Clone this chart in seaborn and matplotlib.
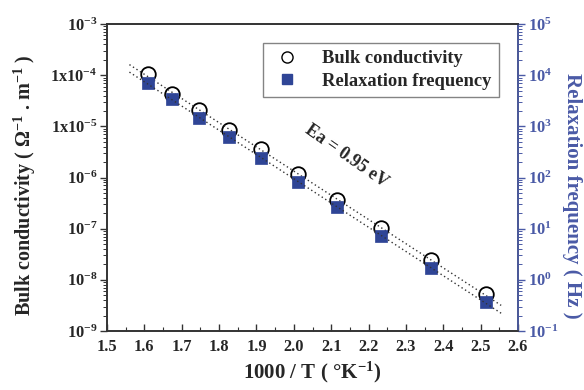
import numpy as np
import pandas as pd
import matplotlib
matplotlib.use("Agg")
import matplotlib.pyplot as plt
import seaborn as sns
from matplotlib.ticker import LogLocator, FixedLocator, NullFormatter
from matplotlib.lines import Line2D

sns.set_theme(style="white")
plt.rcParams['font.family'] = ['Liberation Serif', 'DejaVu Serif']
plt.rcParams['font.weight'] = 'bold'
plt.rcParams['mathtext.fontset'] = 'custom'
plt.rcParams['mathtext.rm'] = 'Liberation Serif:bold'
plt.rcParams['mathtext.it'] = 'Liberation Serif:bold:italic'
plt.rcParams['mathtext.bf'] = 'Liberation Serif:bold'

# Data
inv_T = [1.61, 1.674, 1.746, 1.827, 1.912, 2.011, 2.116, 2.233, 2.367, 2.514]
conductivity = [1.05e-4, 4.3e-5, 2.1e-5, 8.5e-6, 3.6e-6, 1.17e-6, 3.6e-7, 1.03e-7, 2.4e-8, 5.3e-9]
relax_freq = [7000, 3420, 1455, 620, 240, 82, 26.5, 7.2, 1.7, 0.37]
fit_range = [1.56, 2.555]

left_ticks = [1e-3, 1e-4, 1e-5, 1e-6, 1e-7, 1e-8, 1e-9]
left_labels = [r'$10^{-3}$', r'$1\mathrm{x}10^{-4}$', r'$1\mathrm{x}10^{-5}$', r'$10^{-6}$',
               r'$10^{-7}$', r'$10^{-8}$', r'$10^{-9}$']
right_ticks = [1e5, 1e4, 1e3, 1e2, 1e1, 1e0, 1e-1]
right_labels = [r'$10^{5}$', r'$10^{4}$', r'$10^{3}$', r'$10^{2}$', r'$10^{1}$', r'$10^{0}$', r'$10^{-1}$']
x_ticks = [1.5, 1.6, 1.7, 1.8, 1.9, 2.0, 2.1, 2.2, 2.3, 2.4, 2.5, 2.6]
legend_labels = ['Bulk conductivity', 'Relaxation frequency']

blue = '#2f4596'
axblue = '#4a5aa6'

df = pd.DataFrame({'x': inv_T, 'cond': conductivity, 'freq': relax_freq})

fig = plt.figure(figsize=(5.84, 3.90), dpi=100)
ax = fig.add_axes([107/584, 1-331/390, 411/584, 307/390])
ax2 = ax.twinx()

# Fit lines (log-linear)
xf = np.array(fit_range)
p1 = np.polyfit(df['x'], np.log10(df['cond']), 1)
p2 = np.polyfit(df['x'], np.log10(df['freq']), 1)
fit1 = pd.DataFrame({'x': xf, 'y': 10**np.polyval(p1, xf)})
fit2 = pd.DataFrame({'x': xf, 'y': 10**np.polyval(p2, xf)})

sns.scatterplot(data=df, x='x', y='cond', ax=ax, marker='o', s=110,
                facecolor='white', edgecolor='black', linewidth=1.3,
                zorder=2, legend=False)
sns.lineplot(data=fit1, x='x', y='y', ax=ax, color='#333333', linestyle=(0, (1, 2.0)),
             linewidth=1.0, zorder=3, legend=False)
sns.scatterplot(data=df, x='x', y='freq', ax=ax2, marker='s', s=80,
                color=blue, edgecolor=blue, linewidth=0.5,
                zorder=4, legend=False)
sns.lineplot(data=fit2, x='x', y='y', ax=ax2, color='#333333', linestyle=(0, (1, 2.0)),
             linewidth=1.0, zorder=5, legend=False)

ax.set_yscale('log')
ax2.set_yscale('log')
ax.set_xlim(1.5, 2.6)
ax.set_ylim(1e-9, 1e-3)
ax2.set_ylim(1e-1, 1e5)

ax.set_xticks(x_ticks)
ax.set_xticklabels([f'{v:.1f}' for v in x_ticks], fontsize=11.8, fontweight='bold')
ax.xaxis.set_minor_locator(FixedLocator(np.arange(1.55, 2.6, 0.1)))
ax.set_yticks(left_ticks)
ax.set_yticklabels(left_labels, fontsize=11.8)
ax.yaxis.set_minor_locator(LogLocator(base=10, subs=np.arange(2, 10), numticks=20))
ax.yaxis.set_minor_formatter(NullFormatter())
ax2.set_yticks(right_ticks)
ax2.set_yticklabels(right_labels, fontsize=11.8, color=axblue)
ax2.yaxis.set_minor_locator(LogLocator(base=10, subs=np.arange(2, 10), numticks=20))
ax2.yaxis.set_minor_formatter(NullFormatter())

ax.tick_params(axis='x', which='major', direction='in', length=5, width=1, bottom=True, color='#333333', pad=6)
ax.tick_params(axis='x', which='minor', direction='in', length=3, width=0.8, bottom=True, color='#333333')
ax.tick_params(axis='y', which='major', direction='out', length=5, width=1, left=True, color='#333333', pad=2)
ax.tick_params(axis='y', which='minor', direction='out', length=3, width=0.7, left=True, color='#333333')
ax2.tick_params(axis='y', which='major', direction='out', length=5, width=1, right=True, color=axblue, pad=2)
ax2.tick_params(axis='y', which='minor', direction='out', length=3, width=0.7, right=True, color=axblue)

for a in (ax, ax2):
    for s in a.spines.values():
        s.set_color('#333333')
        s.set_linewidth(1.2)
ax2.spines['right'].set_color(axblue)

ax.set_xlabel('1000 / T ( °K$^{-1}$)', fontsize=15, fontweight='bold', labelpad=3)
ax.set_ylabel(r'Bulk conductivity ( $\Omega^{-1}$ . m$^{-1}$ )', fontsize=14.5, fontweight='bold',
              va='center')
ax.yaxis.set_label_coords(-0.200, 0.475)
ax2.set_ylabel('Relaxation frequency ( Hz )', fontsize=15, fontweight='bold', color=axblue,
               rotation=-90, va='center')
ax2.yaxis.set_label_coords(1.132, 0.44)

ax.text(2.14, 2.6e-6, 'Ea = 0.95 eV', rotation=-35, fontsize=13, fontweight='bold',
        ha='center', va='center', rotation_mode='anchor')

handles = [Line2D([], [], marker='o', linestyle='', markerfacecolor='white', markeredgecolor='black',
                  markersize=8, markeredgewidth=1.0),
           Line2D([], [], marker='s', linestyle='', markerfacecolor=blue, markeredgecolor=blue, markersize=7)]
leg = ax2.legend(handles, legend_labels, loc='upper right',
                 bbox_to_anchor=(0.954, 0.938), borderaxespad=0, fontsize=13.3, frameon=True,
                 fancybox=False, edgecolor='#666666', handletextpad=0.97, borderpad=0.4,
                 labelspacing=0.3, handlelength=1.85)
leg.get_frame().set_linewidth(1.0)
leg.set_zorder(10)

fig.savefig('out.png', dpi=100)
